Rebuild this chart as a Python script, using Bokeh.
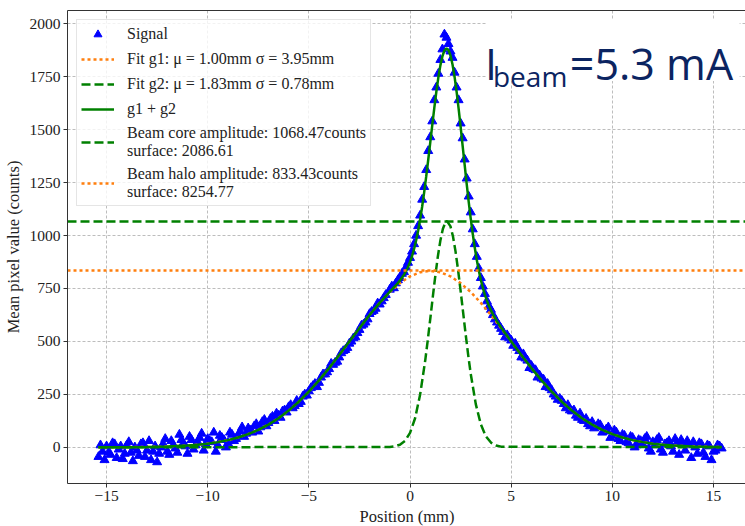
from bokeh.plotting import figure
from bokeh.models import (Legend, LegendItem, FixedTicker, LinearAxis, Label,
                          BoxAnnotation, Range1d)
from bokeh.embed import file_html
from bokeh.resources import INLINE

# ---------------- data ----------------
signal_x_left = [-15.4, -15.2, -15.0, -14.8, -14.6, -14.4, -14.2, -14.0, -13.8, -13.6,
                 -13.4, -13.2, -13.0, -12.8, -12.6, -12.4, -12.2, -12.0, -11.8, -11.6,
                 -11.4, -11.2, -11.0, -10.8, -10.6, -10.4, -10.2, -10.0, -9.8, -9.6,
                 -9.4, -9.2, -9.0, -8.8, -8.6, -8.4, -8.2, -8.0, -7.8, -7.6,
                 -7.4, -7.2, -7.0, -6.8, -6.6, -6.4, -6.2, -6.0, -5.8, -5.6,
                 -5.4, -5.2, -5.0, -4.8, -4.6, -4.4, -4.2, -4.0, -3.8, -3.6,
                 -3.4, -3.2, -3.0, -2.8, -2.6, -2.4, -2.2, -2.0, -1.8, -1.6,
                 -1.4, -1.2]
signal_y_left = [-45, -20, 5, -35, 15, -10, -55, 10, -25, 0,
                 -40, 20, -15, -60, 5, -30, 15, -20, 30, -5,
                 60, 20, -30, 35, 10, 45, -15, 40, 25, -20,
                 55, 35, 20, 60, 40, 75, 50, 90, 70, 110,
                 95, 130, 115, 145, 160, 140, 175, 190, 185, 220,
                 215, 250, 265, 290, 285, 330, 345, 370, 390, 405,
                 445, 460, 490, 515, 540, 575, 590, 630, 645, 680,
                 690, 720]
signal_x_left2 = [-15.3, -15.1, -14.9, -14.7, -14.5, -14.3, -14.1, -13.9, -13.7, -13.5,
                  -13.3, -13.1, -12.9, -12.7, -12.5, -12.3, -12.1, -11.9, -11.7, -11.5,
                  -11.3, -11.1, -10.9, -10.7, -10.5, -10.3, -10.1, -9.9, -9.7, -9.5,
                  -9.3, -9.1, -8.9, -8.7, -8.5, -8.3, -8.1, -7.9, -7.7, -7.5,
                  -7.3, -7.1, -6.9, -6.7, -6.5, -6.3, -6.1, -5.9, -5.7, -5.5,
                  -5.3, -5.1, -4.9, -4.7, -4.5, -4.3, -4.1, -3.9, -3.7, -3.5,
                  -3.3, -3.1, -2.9, -2.7, -2.5, -2.3, -2.1, -1.9, -1.7, -1.5,
                  -1.3]
signal_y_left2 = [10, -60, -25, 20, -50, 5, -30, 25, -65, -15,
                  15, -45, 30, -20, -70, 0, 40, -35, 10, -25,
                  35, 5, 50, -10, 25, 65, 15, 30, 70, 10,
                  45, 0, 70, 30, 55, 95, 65, 80, 100, 75,
                  120, 100, 135, 125, 150, 170, 165, 200, 195, 205,
                  240, 245, 280, 300, 305, 345, 355, 395, 400, 425,
                  455, 470, 500, 520, 555, 580, 605, 640, 655, 675,
                  705]
signal_x_core = [-1.0, -0.9, -0.8, -0.7, -0.6, -0.5, -0.4, -0.3, -0.2, -0.1,
                 0.0, 0.1, 0.2, 0.3, 0.4, 0.5, 0.6, 0.7, 0.8, 0.9,
                 1.0, 1.1, 1.2, 1.3, 1.4, 1.5, 1.6, 1.7, 1.8, 1.9,
                 2.0, 2.1, 2.2, 2.3, 2.4, 2.5, 2.6, 2.7, 2.8, 2.9,
                 3.0, 3.1, 3.2, 3.3, 3.4, 3.5, 3.6, 3.7, 3.8, 3.9,
                 4.0, 4.1, 4.2, 4.3, 4.4, 4.5]
signal_y_core = [745, 760, 752, 775, 790, 800, 820, 828, 850, 872,
                 895, 925, 960, 1000, 1045, 1095, 1170, 1230, 1310, 1400,
                 1465, 1540, 1640, 1700, 1765, 1830, 1880, 1950, 1935, 1905,
                 1870, 1840, 1770, 1700, 1640, 1530, 1460, 1360, 1270, 1185,
                 1110, 1030, 960, 900, 845, 800, 760, 725, 690, 665,
                 650, 625, 605, 590, 575, 560]
signal_x_right = [4.6, 4.8, 5.0, 5.2, 5.4, 5.6, 5.8, 6.0, 6.2, 6.4,
                  6.6, 6.8, 7.0, 7.2, 7.4, 7.6, 7.8, 8.0, 8.2, 8.4,
                  8.6, 8.8, 9.0, 9.2, 9.4, 9.6, 9.8, 10.0, 10.2, 10.4,
                  10.6, 10.8, 11.0, 11.2, 11.4, 11.6, 11.8, 12.0, 12.2, 12.4,
                  12.6, 12.8, 13.0, 13.2, 13.4, 13.6, 13.8, 14.0, 14.2, 14.4,
                  14.6, 14.8, 15.0, 15.2, 15.4]
signal_y_right = [545, 530, 505, 490, 455, 440, 410, 385, 365, 340,
                  320, 300, 270, 240, 230, 205, 200, 170, 150, 160,
                  125, 110, 120, 95, 105, 75, 95, 55, 70, 30,
                  55, 20, 45, 10, 30, 40, -5, 25, 35, -10,
                  15, 30, -20, 20, 35, -15, 10, 25, -30, 15,
                  -45, 5, -20, 10, -5]
signal_x_right2 = [4.7, 4.9, 5.1, 5.3, 5.5, 5.7, 5.9, 6.1, 6.3, 6.5,
                   6.7, 6.9, 7.1, 7.3, 7.5, 7.7, 7.9, 8.1, 8.3, 8.5,
                   8.7, 8.9, 9.1, 9.3, 9.5, 9.7, 9.9, 10.1, 10.3, 10.5,
                   10.7, 10.9, 11.1, 11.3, 11.5, 11.7, 11.9, 12.1, 12.3, 12.5,
                   12.7, 12.9, 13.1, 13.3, 13.5, 13.7, 13.9, 14.1, 14.3, 14.5,
                   14.7, 14.9, 15.1, 15.3]
signal_y_right2 = [520, 515, 480, 470, 425, 420, 375, 370, 330, 325,
                   285, 280, 250, 225, 220, 185, 175, 175, 140, 130,
                   135, 100, 90, 110, 70, 85, 45, 80, 40, 60,
                   25, 50, 0, 35, 15, 50, -20, 10, 45, -25,
                   20, 5, 40, -35, 15, 30, -50, 0, 20, -25,
                   10, -60, -15, 5]

# Fit g1 (broad halo gaussian)
g1_x = [-15.4, -15, -14, -13, -12, -11, -10.5, -10, -9.5, -9, -8.5, -8, -7.5, -7,
        -6.5, -6, -5.5, -5, -4.5, -4, -3.5, -3, -2.5, -2, -1.5, -1, -0.5, 0, 0.5,
        1, 1.5, 2, 2.5, 3, 3.5, 4, 4.5, 5, 5.5, 6, 6.5, 7, 7.5, 8, 8.5, 9, 9.5,
        10, 10.5, 11, 11.5, 12, 12.5, 13, 14, 15, 15.4]
g1_y = [0.15, 0.23, 0.62, 1.56, 3.71, 8.26, 12.0, 17.2, 24.4, 33.8, 46.2, 62.2, 82.3, 107.2,
        137.4, 173.4, 215.2, 262.9, 316.1, 374.1, 435.5, 499.1, 562.8, 624.7, 682.2, 733.2,
        775.4, 807.2, 826.8, 833.4, 826.8, 807.2, 775.4, 733.2, 682.2, 624.7, 562.8, 499.1,
        435.5, 374.1, 316.1, 262.9, 215.2, 173.4, 137.4, 107.2, 82.3, 62.2, 46.2, 33.8,
        24.4, 17.2, 12.0, 8.26, 3.71, 1.56, 1.08]

# Fit g2 (narrow core gaussian)
g2_x = [-15.4, -1.0, -0.75, -0.5, -0.25, 0, 0.25, 0.5, 0.75, 0.875, 1.0, 1.125, 1.25,
        1.375, 1.5, 1.625, 1.75, 1.83, 2.0, 2.125, 2.25, 2.375, 2.5, 2.625, 2.75, 2.875,
        3.0, 3.25, 3.5, 3.75, 4.0, 4.25, 4.5, 15.4]
g2_y = [0, 1.5, 4.5, 12.3, 30.5, 68.2, 137.3, 249.7, 409.7, 505.0, 606.6, 710.2, 810.3,
        901.4, 977.0, 1032.0, 1062.9, 1068.5, 1043.4, 994.8, 924.2, 837.1, 738.9, 635.6,
        532.9, 435.5, 346.9, 203.7, 108.0, 51.6, 22.3, 8.7, 3.1, 0]

# g1 + g2
sum_x = [-15.4, -15, -14, -13, -12, -11, -10.5, -10, -9.5, -9, -8.5, -8, -7.5, -7,
         -6.5, -6, -5.5, -5, -4.5, -4, -3.5, -3, -2.5, -2, -1.5,
         -1.0, -0.9, -0.8, -0.7, -0.6, -0.5, -0.4, -0.3, -0.2, -0.1,
         0.0, 0.1, 0.2, 0.3, 0.4, 0.5, 0.6, 0.7, 0.8, 0.9,
         1.0, 1.1, 1.2, 1.3, 1.4, 1.5, 1.6, 1.7, 1.8, 1.9,
         2.0, 2.1, 2.2, 2.3, 2.4, 2.5, 2.6, 2.7, 2.8, 2.9,
         3.0, 3.1, 3.2, 3.3, 3.4, 3.5, 3.6, 3.7, 3.8, 3.9,
         4.0, 4.1, 4.2, 4.3, 4.4, 4.5,
         5, 5.5, 6, 6.5, 7, 7.5, 8, 8.5, 9, 9.5, 10, 10.5, 11, 11.5, 12, 12.5,
         13, 14, 15, 15.4]
sum_y = [0.15, 0.23, 0.62, 1.56, 3.71, 8.26, 12.0, 17.2, 24.4, 33.8, 46.2, 62.2, 82.3, 107.2,
         137.4, 173.4, 215.2, 262.9, 316.1, 374.1, 435.5, 499.1, 562.8, 624.7, 682.3,
         734.7, 744.6, 754.9, 765.2, 776.0, 787.7, 800.6, 815.2, 832.0, 851.8,
         875.4, 903.4, 936.9, 976.4, 1023.0, 1076.5, 1137.4, 1205.1, 1279.2, 1358.0,
         1440.0, 1522.6, 1603.5, 1679.2, 1747.0, 1803.8, 1847.0, 1874.1, 1884.2, 1876.3,
         1850.6, 1808.2, 1750.7, 1680.6, 1600.8, 1514.3, 1424.1, 1333.4, 1244.4, 1159.3,
         1080.1, 1007.5, 942.1, 884.4, 833.8, 790.2, 752.5, 720.2, 692.3, 668.2,
         647.0, 628.0, 610.8, 595.0, 580.1, 565.9,
         499.1, 435.5, 374.1, 316.1, 262.9, 215.2, 173.4, 137.4, 107.2, 82.3, 62.2, 46.2,
         33.8, 24.4, 17.2, 12.0, 8.26, 3.71, 1.56, 1.08]

core_amplitude = [1068.47]
halo_amplitude = [833.43]

legend_labels = [
    "Signal",
    "Fit g1: \u03bc = 1.00mm \u03c3 = 3.95mm",
    "Fit g2: \u03bc = 1.83mm \u03c3 = 0.78mm",
    "g1 + g2",
    "Beam core amplitude: 1068.47counts\nsurface: 2086.61",
    "Beam halo amplitude: 833.43counts\nsurface: 8254.77",
]

x_ticks = [-15, -10, -5, 0, 5, 10, 15]
x_tick_labels = ["\u221215", "\u221210", "\u22125", "0", "5", "10", "15"]
y_ticks = [0, 250, 500, 750, 1000, 1250, 1500, 1750, 2000]

# ---------------- figure ----------------
SERIF = "Liberation Serif"
p = figure(frame_width=679, frame_height=473,
           min_border_left=66, min_border_right=0, min_border_top=10, min_border_bottom=43,
           x_range=Range1d(-16.93, 16.63), y_range=Range1d(-171, 2063),
           output_backend="svg", toolbar_location=None)
p.outline_line_color = None
p.background_fill_color = "white"
p.border_fill_color = "white"

for ax in (p.xaxis[0], p.yaxis[0]):
    ax.axis_line_color = "#333333"
    ax.major_tick_line_color = "#333333"
    ax.major_tick_out = 4
    ax.major_tick_in = 0
    ax.minor_tick_out = 0
    ax.minor_tick_in = 0
    ax.major_label_text_font = SERIF
    ax.major_label_text_font_size = "15.5px"
    ax.major_label_text_color = "#222222"
    ax.axis_label_text_font = SERIF
    ax.axis_label_text_font_size = "16.5px"
    ax.axis_label_text_font_style = "normal"
    ax.axis_label_text_color = "#222222"

p.xaxis.ticker = FixedTicker(ticks=x_ticks)
p.xaxis.major_label_overrides = dict(zip(x_ticks, x_tick_labels))
p.xaxis.axis_label = "Position (mm)"
p.xaxis.major_label_standoff = 3
p.xaxis.axis_label_standoff = 3

p.yaxis.ticker = FixedTicker(ticks=y_ticks)
p.yaxis.axis_label = "Mean pixel value (counts)"
p.yaxis.major_label_standoff = 3
p.yaxis.axis_label_standoff = 4

top_axis = LinearAxis(ticker=FixedTicker(ticks=[]), axis_line_color="#333333",
                      major_tick_out=0, major_tick_in=0, minor_tick_out=0, minor_tick_in=0,
                      major_label_text_font_size="0px", major_label_standoff=0)
p.add_layout(top_axis, "above")

p.xgrid.ticker = FixedTicker(ticks=x_ticks)
p.ygrid.ticker = FixedTicker(ticks=y_ticks)
for g in (p.xgrid[0], p.ygrid[0]):
    g.grid_line_color = "#bdbdbd"
    g.grid_line_dash = "3 2"
    g.grid_line_width = 1

signal_x = signal_x_left + signal_x_left2 + signal_x_core + signal_x_right + signal_x_right2
signal_y = signal_y_left + signal_y_left2 + signal_y_core + signal_y_right + signal_y_right2

r_sig = p.scatter(signal_x, signal_y, marker="triangle", size=9,
                  fill_color="#0000ff", line_color="#0000ff")
r_g1 = p.line(g1_x, g1_y, line_color="#ff7f0e", line_width=2.5, line_dash="3 3")
r_g2 = p.line(g2_x, g2_y, line_color="#008000", line_width=2.5, line_dash="9 4")
r_sum = p.line(sum_x, sum_y, line_color="#008000", line_width=2.5)
r_core = p.hspan(y=core_amplitude, line_color="#008000", line_width=2.5, line_dash="9 4")
r_halo = p.hspan(y=halo_amplitude, line_color="#ff7f0e", line_width=2.5, line_dash="3 3")

renderers = [r_sig, r_g1, r_g2, r_sum, r_core, r_halo]
legend = Legend(items=[LegendItem(label=l, renderers=[r]) for l, r in zip(legend_labels, renderers)],
                location="top_left", margin=9, padding=4, spacing=5,
                glyph_width=33, glyph_height=20, label_height=20, label_standoff=13,
                label_text_font=SERIF, label_text_font_size="16px",
                label_text_color="#222222",
                border_line_color="#cccccc", border_line_width=1,
                background_fill_color="white", background_fill_alpha=0.8)
p.add_layout(legend)

# beam current annotation
p.add_layout(BoxAnnotation(left=3.78, right=16.29, bottom=1730, top=2023,
                           fill_color="white", fill_alpha=1.0, line_color=None))
NAVY = "#0b2461"
p.add_layout(Label(x=3.70, y=1811, text="I", text_font="Open Sans", text_font_size="43px",
                   text_color=NAVY, text_baseline="alphabetic"))
p.add_layout(Label(x=4.10, y=1752, text="beam", text_font="Open Sans", text_font_size="28px",
                   text_color=NAVY, text_baseline="alphabetic"))
p.add_layout(Label(x=7.90, y=1811, text="=5.3 mA", text_font="Open Sans", text_font_size="43px",
                   text_color=NAVY, text_baseline="alphabetic"))

open("out.html", "w").write(file_html(p, INLINE))
